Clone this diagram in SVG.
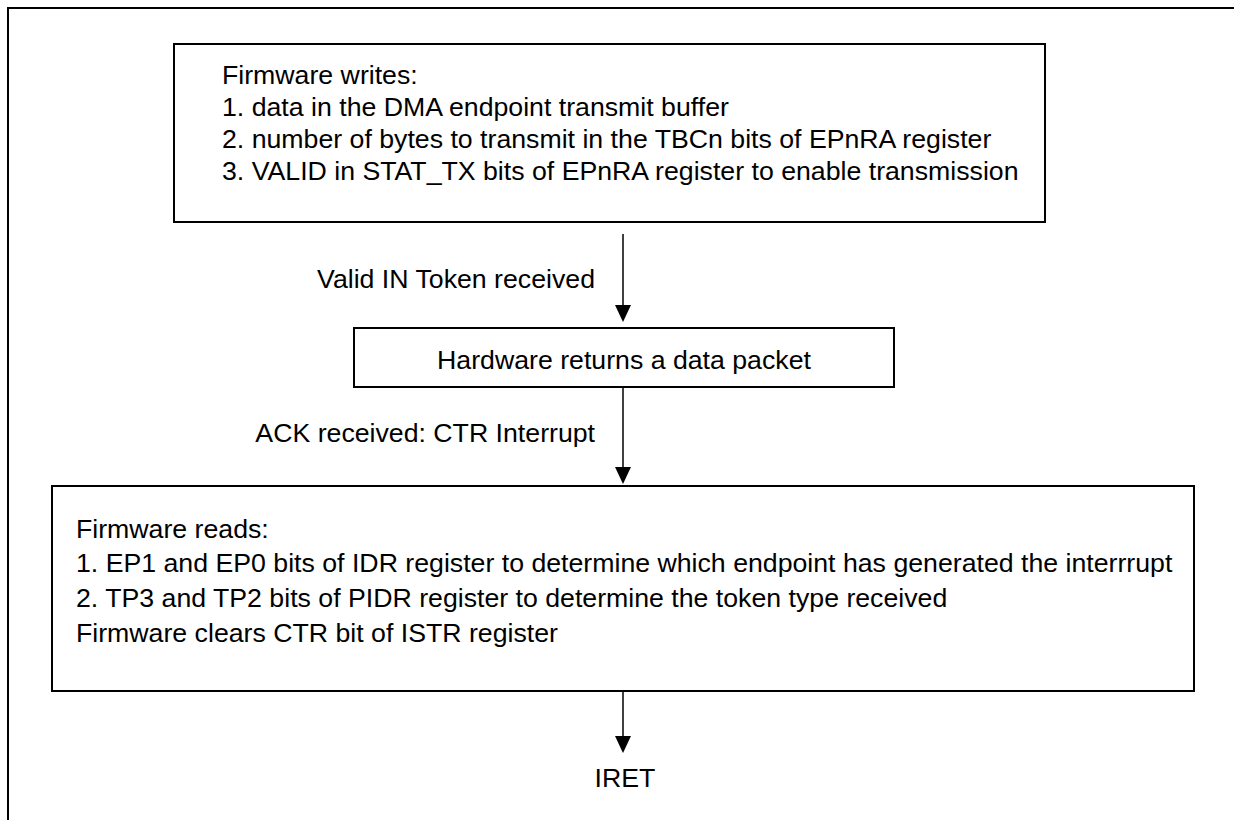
<svg xmlns="http://www.w3.org/2000/svg" width="1234" height="820" viewBox="0 0 1234 820">
<style>
.box{fill:#fff;stroke:#000;stroke-width:2}
.t{font-family:"Liberation Sans",Arial,sans-serif;font-size:26.7px;fill:#000}
.c{text-anchor:middle}
.r{text-anchor:end}
.conn{stroke:#000;stroke-width:1.5;fill:none}
.head{fill:#000}
</style>
<rect x="0" y="0" width="1234" height="820" fill="#fff"/>
<g id="frame"><path d="M8,830 L8,8 L1240,8" fill="none" stroke="#000" stroke-width="2"/></g>
<g id="connectors">
<line class="conn" x1="623" y1="234" x2="623" y2="310"/>
<path class="head" d="M615,305 L631,305 L623,322 Z"/>
<line class="conn" x1="623" y1="387" x2="623" y2="470"/>
<path class="head" d="M615,467 L631,467 L623,484 Z"/>
<line class="conn" x1="623" y1="691" x2="623" y2="740"/>
<path class="head" d="M615,736 L631,736 L623,753 Z"/>
<text class="t r" x="595" y="288">Valid IN Token received</text>
<text class="t r" x="595" y="442">ACK received: CTR Interrupt</text>
</g>
<g id="node-writes">
<rect class="box" x="174" y="44" width="871" height="178"/>
<text class="t" x="222" y="84">Firmware writes:</text>
<text class="t" x="222" y="116">1. data in the DMA endpoint transmit buffer</text>
<text class="t" x="222" y="148">2. number of bytes to transmit in the TBCn bits of EPnRA register</text>
<text class="t" x="222" y="180">3. VALID in STAT_TX bits of EPnRA register to enable transmission</text>
</g>
<g id="node-hw">
<rect class="box" x="354" y="328" width="540" height="59"/>
<text class="t c" x="624" y="369">Hardware returns a data packet</text>
</g>
<g id="node-reads">
<rect class="box" x="52" y="486" width="1142" height="205"/>
<text class="t" x="76" y="538">Firmware reads:</text>
<text class="t" x="76" y="572">1. EP1 and EP0 bits of IDR register to determine which endpoint has generated the interrrupt</text>
<text class="t" x="76" y="607">2. TP3 and TP2 bits of PIDR register to determine the token type received</text>
<text class="t" x="76" y="642">Firmware clears CTR bit of ISTR register</text>
</g>
<g id="node-iret">
<text class="t c" x="625" y="787">IRET</text>
</g>
</svg>
